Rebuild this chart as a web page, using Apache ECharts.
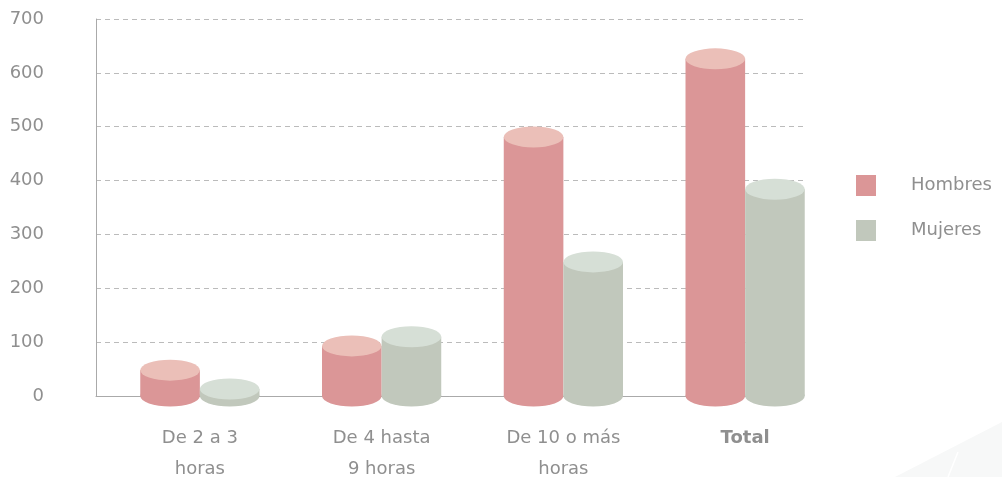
<!DOCTYPE html>
<html>
<head>
<meta charset="utf-8">
<script src="https://cdn.jsdelivr.net/npm/echarts@6/dist/echarts.min.js"></script>
<style>
html,body{margin:0;padding:0;background:#fff;}
#main{width:1002px;height:477px;}
</style>
</head>
<body>
<div id="main"></div>
<script>
var categories = ['De 2 a 3\nhoras', 'De 4 hasta\n9 horas', 'De 10 o más\nhoras', 'Total'];
var hombres = [48, 93, 481, 626];
var mujeres = [13, 110, 249, 384];
var yTicks = [0, 100, 200, 300, 400, 500, 600, 700];

var FONT = 'DejaVu Sans';
var TXT = '#8f8f8f';

function makeCyl(body, top, side) {
  return function (params, api) {
    var v = api.value(1);
    var c = api.coord([api.value(0), v]);
    var c0 = api.coord([api.value(0), 0]);
    var band = api.size([1, 0])[0];
    var w = band * 0.328;
    var x = side < 0 ? c[0] - w : c[0];
    var r = w / 2;
    var ry = 10.5;
    var sy = ry / r;
    return {
      type: 'group',
      children: [
        { type: 'circle', shape: { cx: 0, cy: 0, r: r }, x: x + r, y: c0[1], scaleY: sy, style: { fill: body } },
        { type: 'rect', shape: { x: x, y: c[1], width: w, height: c0[1] - c[1] }, style: { fill: body } },
        { type: 'circle', shape: { cx: 0, cy: 0, r: r }, x: x + r, y: c[1], scaleY: sy, style: { fill: top } }
      ]
    };
  };
}

var chart = echarts.init(document.getElementById('main'), null, { renderer: 'canvas' });
chart.setOption({
  backgroundColor: '#fff',
  animation: false,
  graphic: [
    { type: 'polygon', z: -10, shape: { points: [[895, 477], [1002, 422], [1002, 477]] }, style: { fill: '#f7f8f8' } },
    { type: 'line', z: -9, shape: { x1: 948, y1: 477, x2: 958, y2: 452 }, style: { stroke: '#ffffff', lineWidth: 1.5 } }
  ],
  legend: {
    orient: 'vertical',
    left: 856,
    top: 175,
    padding: 0,
    itemWidth: 20,
    itemHeight: 21,
    itemGap: 24,
    icon: 'rect',
    textStyle: { fontFamily: FONT, fontSize: 18, color: TXT, padding: [8, 0, 0, 30] },
    data: ['Hombres', 'Mujeres']
  },
  grid: [
    { left: 96, right: 199, top: 19, bottom: 81, outerBoundsMode: 'none', containLabel: false },
    { left: 109, width: 727, top: 19, bottom: 81, outerBoundsMode: 'none', containLabel: false }
  ],
  xAxis: [
    {
      gridIndex: 0, type: 'category', data: categories,
      axisLine: { lineStyle: { color: '#aaaaaa', width: 1 } },
      axisTick: { show: false }, axisLabel: { show: false }, splitLine: { show: false }
    },
    {
      gridIndex: 1, type: 'category', data: categories,
      axisLine: { show: false }, axisTick: { show: false },
      axisLabel: {
        margin: 27, fontFamily: FONT, fontSize: 18, color: TXT, lineHeight: 31,
        formatter: function (v) { return v === 'Total' ? '{b|Total}' : v; },
        rich: { b: { fontFamily: FONT, fontSize: 18, fontWeight: 'bold', color: TXT, lineHeight: 31 } }
      }
    }
  ],
  yAxis: [
    {
      gridIndex: 0, type: 'value', min: 0, max: 700, interval: 100,
      axisLine: { show: true, lineStyle: { color: '#aaaaaa', width: 1 } },
      axisTick: { show: false },
      axisLabel: {
        margin: 52, fontFamily: FONT, fontSize: 18, color: TXT,
        formatter: function (v) { return yTicks.indexOf(v) >= 0 ? String(v) : ''; }
      },
      splitLine: { lineStyle: { color: '#bbbbbb', type: [5, 4], width: 1 } }
    },
    {
      gridIndex: 1, type: 'value', min: 0, max: 700, interval: 100, show: false
    }
  ],
  series: [
    {
      name: 'Hombres', type: 'custom', xAxisIndex: 1, yAxisIndex: 1,
      itemStyle: { color: '#db9697' },
      renderItem: makeCyl('#db9697', '#ebbfb8', -1),
      encode: { x: 0, y: 1 },
      data: hombres.map(function (v, i) { return [i, v]; }),
      z: 2
    },
    {
      name: 'Mujeres', type: 'custom', xAxisIndex: 1, yAxisIndex: 1,
      itemStyle: { color: '#c1c8bc' },
      renderItem: makeCyl('#c1c8bc', '#d6dfd6', 1),
      encode: { x: 0, y: 1 },
      data: mujeres.map(function (v, i) { return [i, v]; }),
      z: 3
    }
  ]
});
</script>
</body>
</html>
